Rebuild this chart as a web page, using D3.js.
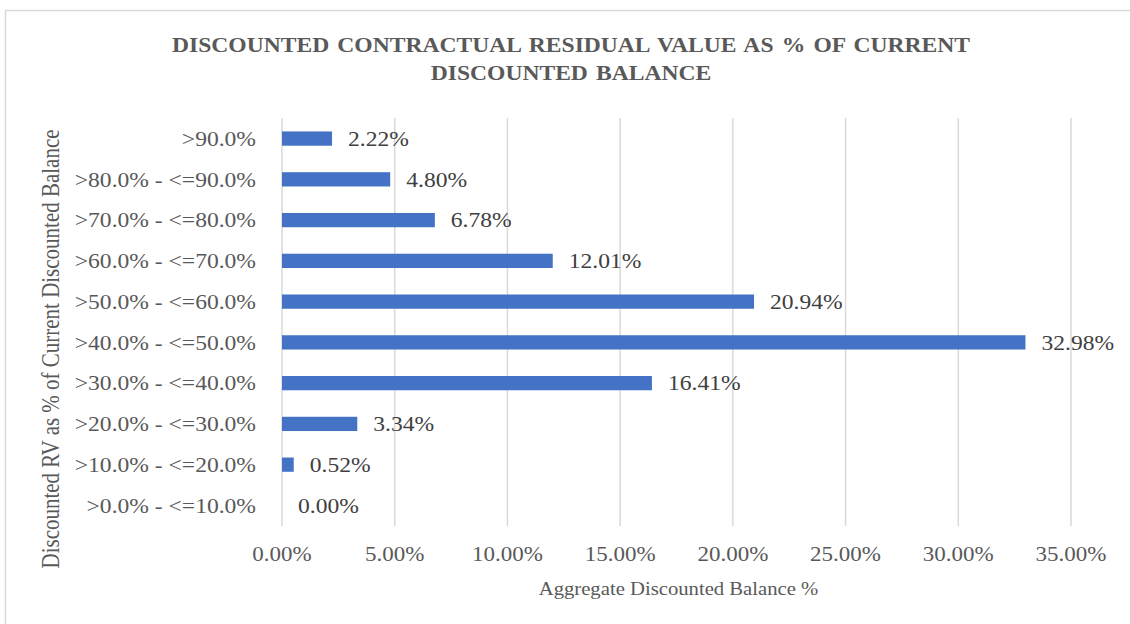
<!DOCTYPE html>
<html lang="en">
<head>
  <meta charset="UTF-8" />
  <title>Discounted Contractual Residual Value</title>
  <script src="https://d3js.org/d3.v7.min.js"></script>
  <style>
    body { margin: 0; background: #fff; }
    text { font-family: "Liberation Serif", "Times New Roman", serif; }
    .grid line { stroke: #d9d9d9; stroke-width: 1.5px; }
    .bar { fill: #4472c4; }
  </style>
</head>
<body>
<script>
  // Chart data
  const categories = [">90.0%", ">80.0% - <=90.0%", ">70.0% - <=80.0%", ">60.0% - <=70.0%",
    ">50.0% - <=60.0%", ">40.0% - <=50.0%", ">30.0% - <=40.0%", ">20.0% - <=30.0%",
    ">10.0% - <=20.0%", ">0.0% - <=10.0%"];
  const values = [2.22, 4.80, 6.78, 12.01, 20.94, 32.98, 16.41, 3.34, 0.52, 0.00];
  const xTicks = [0, 5, 10, 15, 20, 25, 30, 35];
  const titleLines = ["DISCOUNTED  CONTRACTUAL  RESIDUAL VALUE AS % OF CURRENT", "DISCOUNTED BALANCE"];
  const xTitle = "Aggregate  Discounted Balance %";
  const yTitle = "Discounted RV as % of Current Discounted Balance";

  const W = 1130, H = 624;
  const plot = { left: 282, right: 1071, top: 118, bottom: 526 };
  const sx = 1.15; // text in the original is a bit wider than it is tall

  const svg = d3.select("body").append("svg")
    .attr("width", W).attr("height", H);

  // outer chart border
  svg.append("rect")
    .attr("x", 5.5).attr("y", 10.5)
    .attr("width", W + 10).attr("height", H + 10)
    .attr("fill", "none").attr("stroke", "#d9d9d9").attr("stroke-width", 1.5);

  const x = d3.scaleLinear().domain([0, 35]).range([plot.left, plot.right]);
  const y = d3.scaleBand().domain(categories).range([plot.top, plot.bottom]).paddingInner(0.65).paddingOuter(0.33);

  // helper: place a text at (px,py) with horizontal stretch
  const at = (px, py) => `translate(${px},${py}) scale(${sx},1)`;

  // gridlines
  svg.append("g").attr("class", "grid")
    .selectAll("line").data(xTicks).enter().append("line")
      .attr("x1", d => x(d)).attr("x2", d => x(d))
      .attr("y1", plot.top).attr("y2", plot.bottom);

  // bars
  svg.selectAll(".bar").data(values).enter().append("rect")
    .attr("class", "bar")
    .attr("x", x(0))
    .attr("y", (d, i) => y(categories[i]))
    .attr("width", d => x(d) - x(0))
    .attr("height", y.bandwidth());

  // data labels
  svg.selectAll(".lbl").data(values).enter().append("text")
    .attr("transform", (d, i) => at(x(d) + 16, y(categories[i]) + y.bandwidth() / 2))
    .attr("dy", "0.35em")
    .attr("font-size", 20.5).attr("fill", "#404040")
    .text(d => d.toFixed(2) + "%");

  // category labels
  svg.selectAll(".cat").data(categories).enter().append("text")
    .attr("transform", d => at(256, y(d) + y.bandwidth() / 2))
    .attr("dy", "0.35em")
    .attr("text-anchor", "end")
    .attr("font-size", 20.5).attr("fill", "#595959")
    .text(d => d);

  // x tick labels
  svg.selectAll(".tick-lbl").data(xTicks).enter().append("text")
    .attr("transform", d => at(x(d), 561))
    .attr("text-anchor", "middle")
    .attr("font-size", 20).attr("fill", "#595959")
    .text(d => d.toFixed(2) + "%");

  // axis titles
  svg.append("text")
    .attr("transform", at(x(17.5) + 2, 595))
    .attr("text-anchor", "middle")
    .attr("font-size", 18).attr("fill", "#595959")
    .text(xTitle);

  svg.append("text")
    .attr("transform", `translate(59,349) scale(${sx},1) rotate(-90)`)
    .attr("text-anchor", "middle")
    .attr("font-size", 21).attr("fill", "#595959")
    .text(yTitle);

  // title
  svg.append("text")
    .attr("transform", at(571, 52))
    .attr("text-anchor", "middle")
    .attr("font-size", 20.5).attr("font-weight", "bold").attr("fill", "#595959")
    .attr("word-spacing", 2)
    .selectAll("tspan").data(titleLines).enter().append("tspan")
      .attr("x", 0).attr("dy", (d, i) => i === 0 ? 0 : 28)
      .text(d => d);
</script>
</body>
</html>
